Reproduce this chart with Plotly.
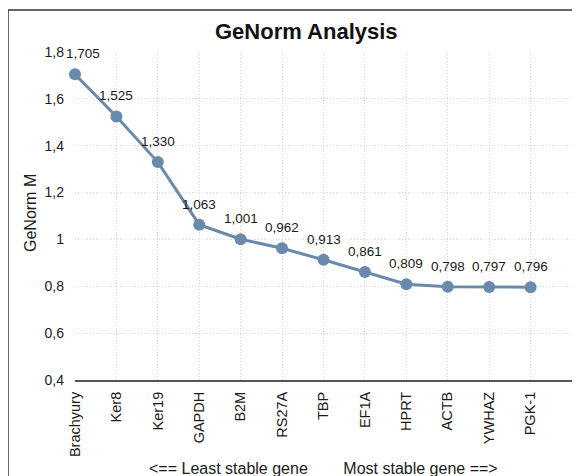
import plotly.graph_objects as go

genes = ["Brachyury", "Ker8", "Ker19", "GAPDH", "B2M", "RS27A", "TBP", "EF1A",
         "HPRT", "ACTB", "YWHAZ", "PGK-1"]
m_values = [1.705, 1.525, 1.330, 1.063, 1.001, 0.962, 0.913, 0.861, 0.809, 0.798, 0.797, 0.796]
y_ticks = [0.4, 0.6, 0.8, 1.0, 1.2, 1.4, 1.6, 1.8]

idx = list(range(len(genes)))
color = "#6a8aab"
FONT = "Liberation Sans, Arial, sans-serif"
TXT = "#1a1a1a"
GRID = "#d6d6d6"

# page body has an 8px margin, so the figure is 8px smaller than the window
W, H = 572, 468
L, R, T, B = 67, 8, 44, 96
pw, ph = W - L - R, H - T - B

def px(xp):
    return (xp - L) / pw

def py(yp):
    return (H - B - yp) / ph

fig = go.Figure()
fig.add_trace(go.Scatter(
    x=idx, y=m_values, mode="lines+markers",
    line=dict(color=color, width=3),
    marker=dict(color=color, size=12),
    cliponaxis=False, hoverinfo="skip", showlegend=False,
))

annotations = []
for i, v in zip(idx, m_values):
    annotations.append(dict(
        x=i, y=v, xref="x", yref="y", text=f"{v:.3f}".replace(".", ","),
        showarrow=False, xanchor="center", yanchor="bottom", yshift=11,
        xshift=8 if i == 0 else 0,
        font=dict(size=13.5, color=TXT, family=FONT),
    ))

annotations += [
    dict(text="<b>GeNorm Analysis</b>", x=px(298.5), y=py(23), xref="paper", yref="paper",
         xanchor="center", yanchor="middle", showarrow=False,
         font=dict(size=22, color="#111", family=FONT)),
    dict(text="<== Least stable gene" + "\u00a0" * 8 + "Most stable gene ==>",
         x=px(315), y=py(460), xref="paper", yref="paper",
         xanchor="center", yanchor="middle", showarrow=False,
         font=dict(size=16, color=TXT, family=FONT)),
    dict(text="GeNorm M", x=px(22), y=py(205), xref="paper", yref="paper",
         xanchor="center", yanchor="middle", textangle=-90, showarrow=False,
         font=dict(size=16, color=TXT, family=FONT)),
]

fig.update_layout(
    width=W, height=H,
    margin=dict(l=L, r=R, t=T, b=B),
    paper_bgcolor="white", plot_bgcolor="white",
    separators=",.",
    font=dict(family=FONT, color=TXT),
    xaxis=dict(
        range=[0, len(genes)], tickvals=idx + [len(genes)], ticktext=genes + [""],
        tickangle=-90, tickfont=dict(size=14.5, color=TXT),
        showgrid=True, gridcolor=GRID, griddash="1px,2px", gridwidth=1,
        showline=True, linecolor="#555", linewidth=2, ticks="", zeroline=False,
        ticklabelstandoff=4,
    ),
    yaxis=dict(
        range=[0.4, 1.8], tickvals=y_ticks, tickfont=dict(size=14, color=TXT),
        showgrid=True, gridcolor=GRID, griddash="1px,2px", gridwidth=1,
        showline=False, ticks="", zeroline=False, ticklabelstandoff=10,
    ),
    annotations=annotations,
    shapes=[
        dict(type="line", xref="paper", yref="paper", x0=px(0), x1=px(0), y0=py(2), y1=py(480),
             line=dict(color="#333", width=1.5)),
        dict(type="line", xref="paper", yref="paper", x0=px(0), x1=px(580), y0=py(2), y1=py(2),
             line=dict(color="#333", width=1.5)),
    ],
)

fig.write_html("out.html")
